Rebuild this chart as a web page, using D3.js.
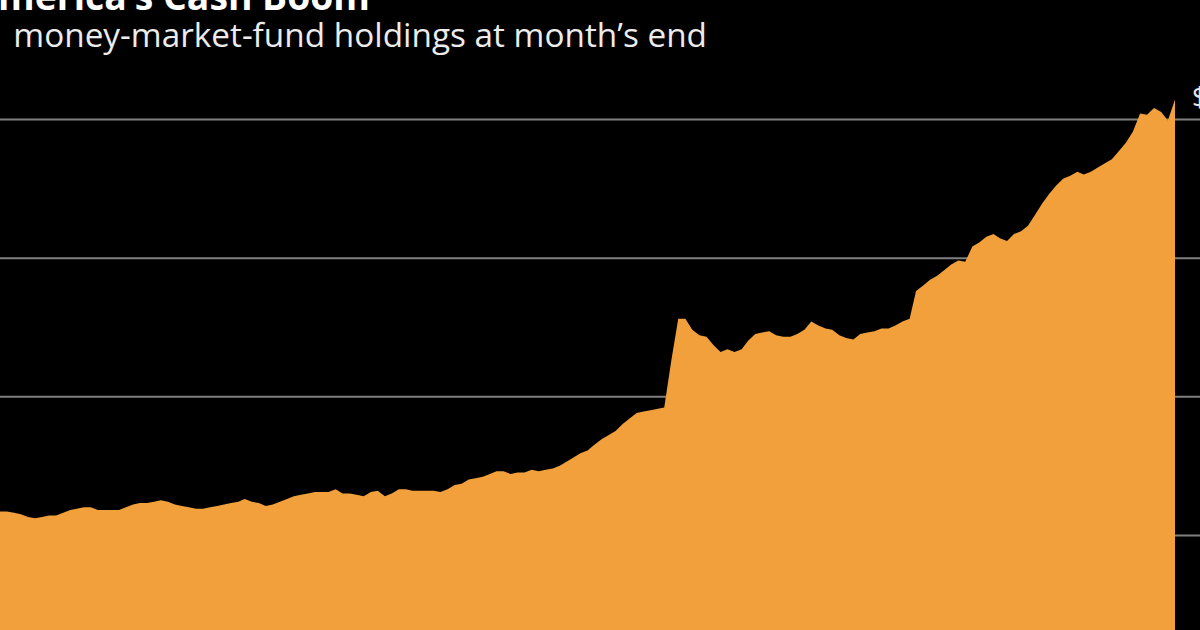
<!DOCTYPE html>
<html lang="en">
<head>
    <meta charset="UTF-8">
    <title>America's Cash Boom</title>
    <script src="https://cdn.jsdelivr.net/npm/d3@7/dist/d3.min.js"></script>
    <style>
        html, body { margin: 0; padding: 0; background: #000; overflow: hidden; }
    </style>
</head>
<body>
<script>

    // month-end holdings, trillions of dollars
    var holdings = [3.17, 3.17, 3.16, 3.15, 3.13, 3.12, 3.13, 3.14, 3.14, 3.16,
        3.18, 3.19, 3.20, 3.20, 3.18, 3.18, 3.18, 3.18, 3.20, 3.22,
        3.23, 3.23, 3.24, 3.25, 3.24, 3.22, 3.21, 3.20, 3.19, 3.19,
        3.20, 3.21, 3.22, 3.23, 3.24, 3.26, 3.24, 3.23, 3.21, 3.22,
        3.24, 3.26, 3.28, 3.29, 3.30, 3.31, 3.31, 3.31, 3.33, 3.30,
        3.30, 3.29, 3.28, 3.31, 3.32, 3.28, 3.30, 3.33, 3.33, 3.32,
        3.32, 3.32, 3.32, 3.31, 3.33, 3.36, 3.37, 3.40, 3.41, 3.42,
        3.44, 3.46, 3.46, 3.44, 3.45, 3.45, 3.47, 3.46, 3.47, 3.48,
        3.50, 3.53, 3.56, 3.59, 3.61, 3.65, 3.69, 3.72, 3.75, 3.80,
        3.84, 3.88, 3.89, 3.90, 3.91, 3.92, 4.26, 4.56, 4.56, 4.48,
        4.44, 4.43, 4.37, 4.32, 4.34, 4.32, 4.34, 4.40, 4.45, 4.46,
        4.47, 4.44, 4.43, 4.43, 4.45, 4.48, 4.54, 4.51, 4.49, 4.48,
        4.44, 4.42, 4.41, 4.45, 4.46, 4.47, 4.49, 4.49, 4.51, 4.54,
        4.56, 4.76, 4.80, 4.84, 4.87, 4.91, 4.95, 4.98, 4.97, 5.08,
        5.11, 5.15, 5.17, 5.14, 5.12, 5.17, 5.19, 5.23, 5.31, 5.39,
        5.46, 5.52, 5.57, 5.59, 5.62, 5.60, 5.62, 5.65, 5.68, 5.71,
        5.77, 5.83, 5.91, 6.04, 6.03, 6.08, 6.05, 5.99, 6.14];

    // one month per value
    var months = d3.timeMonth.range(new Date(2010, 3, 1), new Date(2024, 4, 1));

    var yTicks = [3, 4, 5, 6];
    var yTickLabels = ["3", "4", "5", "$6T"];

    var title = "America\u2019s Cash Boom";
    var subtitleHead = "U.S.";
    var subtitleTail = "money-market-fund holdings at month\u2019s end";

    var w = 1200,
        h = 630;

    var svg = d3.select("body")
        .append("svg")
        .attr("width", w)
        .attr("height", h)
        .style("display", "block")
        .style("background", "#000");

    var x = d3.scaleTime()
        .domain([months[0], months[months.length - 1]])
        .range([0, 1175]);

    var y = d3.scaleLinear()
        .domain([3, 6])
        .range([535, 119]);

    // gridlines
    var grid = svg.append("g")
        .attr("transform", "translate(-10,0)")
        .call(d3.axisRight(y).tickValues(yTicks).tickSize(w + 20).tickFormat(""));
    grid.select(".domain").remove();
    grid.selectAll(".tick line")
        .attr("stroke", "#808080")
        .attr("stroke-width", 2);

    // area
    var area = d3.area()
        .x(function (d, i) { return x(months[i]); })
        .y0(y(2))
        .y1(function (d) { return y(d); });

    svg.append("path")
        .datum(holdings)
        .attr("d", area)
        .attr("fill", "#f1a03b");

    // axis labels on the right, right aligned, mostly outside the frame
    var labels = svg.append("g")
        .attr("font-family", "'Open Sans', sans-serif")
        .attr("font-size", "27px")
        .attr("fill", "#e6e6e6");
    var probe = labels.append("text").text(yTickLabels[3]);
    var lw = probe.node().getComputedTextLength();
    probe.remove();
    labels.selectAll("text")
        .data(yTicks)
        .enter()
        .append("text")
        .attr("x", 1192 + lw)
        .attr("y", function (d) { return y(d) - 12; })
        .attr("text-anchor", "end")
        .text(function (d, i) { return yTickLabels[i]; });

    // titles
    var t = svg.append("text")
        .attr("font-family", "'Open Sans', sans-serif")
        .attr("font-weight", "bold")
        .attr("font-size", "38px")
        .attr("fill", "#ffffff")
        .attr("x", 370)
        .attr("y", 10)
        .attr("text-anchor", "end")
        .text(title);

    // fit the subtitle so "money ... end" spans 13 -> 707
    var tail = svg.append("text")
        .attr("font-family", "'Open Sans', sans-serif")
        .attr("font-size", "30px")
        .text(subtitleTail);
    var k = 694 / tail.node().getComputedTextLength();
    tail.remove();

    var s = svg.append("text")
        .attr("font-family", "'Open Sans', sans-serif")
        .attr("font-size", (30 * k) + "px")
        .attr("fill", "#ececec")
        .attr("text-anchor", "end")
        .attr("x", 707)
        .attr("y", 47);
    s.append("tspan").text(subtitleHead);
    s.append("tspan").attr("dx", 16).text(subtitleTail);

    // fit the title so "merica ... Boom" spans 0 -> 370
    var ttail = svg.append("text")
        .attr("font-family", "'Open Sans', sans-serif")
        .attr("font-weight", "bold")
        .attr("font-size", "38px")
        .text("merica\u2019s Cash Boom");
    var k2 = 372 / ttail.node().getComputedTextLength();
    ttail.remove();
    t.attr("font-size", (38 * k2) + "px");

</script>
</body>
</html>
